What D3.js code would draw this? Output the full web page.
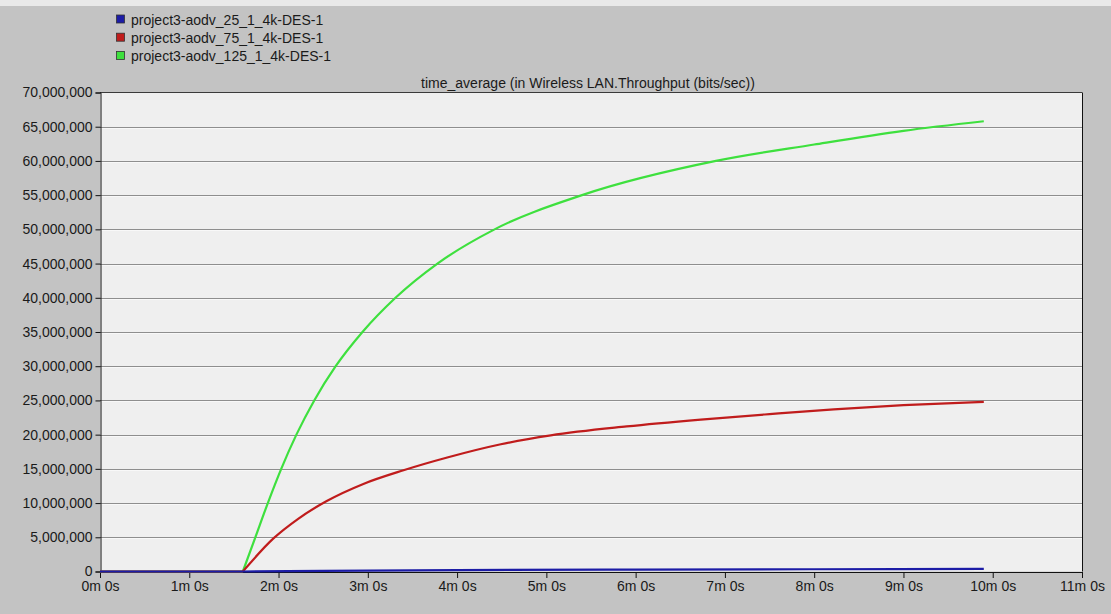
<!DOCTYPE html>
<html>
<head>
<meta charset="utf-8">
<title>time_average throughput</title>
<script src="https://d3js.org/d3.v7.min.js"></script>
<style>
  body { margin: 0; background: #c3c3c3; }
  svg text { font-family: "Liberation Sans", Arial, sans-serif; fill: #1a1a1a; }
</style>
</head>
<body>
<script>
// series names (legend)
var names = ["project3-aodv_25_1_4k-DES-1", "project3-aodv_75_1_4k-DES-1", "project3-aodv_125_1_4k-DES-1"];
var colors = ["#1c1ca6", "#c01c1c", "#3ee03e"];

// time in minutes, values in bits/sec (millions)
var blueT = [0, 1.6, 2.5, 4, 6, 8, 9.9];
var blueV = [0, 0, 0.1, 0.2, 0.28, 0.33, 0.37];

var redT = [0, 1.6, 1.94, 2.22, 2.54, 2.95, 3.4, 3.9, 4.49, 5.05, 5.9, 6.73, 7.5, 8.22, 9.0, 9.9];
var redV = [0, 0, 4.8, 7.7, 10.3, 12.8, 14.8, 16.7, 18.6, 19.9, 21.2, 22.2, 23, 23.7, 24.3, 24.8];

var greenT = [0, 1.6, 1.74, 1.88, 2.03, 2.2, 2.4, 2.64, 2.94, 3.31, 3.78, 4.42, 5.4, 6.9, 8.0, 9.0, 9.9];
var greenV = [0, 0, 5, 10, 15, 20, 25, 30, 35, 40, 45, 50, 55, 60, 62.4, 64.4, 65.8];

var xTicks = d3.range(0, 12);
var yTicks = d3.range(0, 75, 5);
var title = "time_average (in Wireless LAN.Throughput (bits/sec))";

var w = 1111, h = 614;
var pLeft = 100, pRight = 1082, pTop = 92.5, pBottom = 571.5;

var svg = d3.select("body").append("svg").attr("width", w).attr("height", h);

svg.append("rect").attr("width", w).attr("height", 6).attr("fill", "#e9e9e9");

var x = d3.scaleLinear().domain([0, 11]).range([pLeft, pRight]);
var y = d3.scaleLinear().domain([0, 70]).range([pBottom, pTop]);

// plot background
svg.append("rect")
    .attr("x", pLeft).attr("y", pTop)
    .attr("width", pRight - pLeft).attr("height", pBottom - pTop)
    .attr("fill", "#efefef");

// grid lines
var grid = svg.append("g");
grid.selectAll("line.g").data(yTicks.slice(1, -1)).enter().append("line")
    .attr("x1", pLeft).attr("x2", pRight)
    .attr("y1", function (d) { return Math.round(y(d)) + 0.5; })
    .attr("y2", function (d) { return Math.round(y(d)) + 0.5; })
    .attr("stroke", "#8e8e8e");
grid.selectAll("line.s").data(yTicks.slice(1, -1)).enter().append("line")
    .attr("x1", pLeft).attr("x2", pRight)
    .attr("y1", function (d) { return Math.round(y(d)) + 1.5; })
    .attr("y2", function (d) { return Math.round(y(d)) + 1.5; })
    .attr("stroke", "#f8f8f8");

// frame
svg.append("line").attr("x1", pLeft).attr("x2", pRight).attr("y1", pTop).attr("y2", pTop).attr("stroke", "#3a3a3a");
svg.append("line").attr("x1", pRight + 0.5).attr("x2", pRight + 0.5).attr("y1", pTop).attr("y2", pBottom).attr("stroke", "#111");

// axes
var yAxis = d3.axisLeft(y).tickValues(yTicks).tickSize(5).tickPadding(3)
    .tickFormat(function (d) { return d3.format(",")(d * 1e6); });
var gy = svg.append("g").attr("transform", "translate(" + (pLeft + 0.5) + ",0)").call(yAxis);

var xAxis = d3.axisBottom(x).tickValues(xTicks).tickSize(6).tickPadding(3)
    .tickFormat(function (d) { return d + "m 0s"; });
var gx = svg.append("g").attr("transform", "translate(0," + (pBottom + 0.5) + ")").call(xAxis);

svg.selectAll(".domain").attr("stroke", "#111");
svg.selectAll(".tick line").attr("stroke", "#111");
svg.selectAll(".tick text").attr("font-size", 14).attr("fill", "#1a1a1a")
    .attr("font-family", "Liberation Sans, Arial, sans-serif");

// title
svg.append("text").attr("x", 588).attr("y", 88)
    .attr("text-anchor", "middle").attr("font-size", 14)
    .text(title);

// lines: flat start drawn straight, rising part smoothed
var series = [
    { t: greenT, v: greenV, c: colors[2] },
    { t: redT, v: redV, c: colors[1] },
    { t: blueT, v: blueV, c: colors[0] }
];
var flat = d3.line()
    .x(function (d) { return x(d[0]); })
    .y(function (d) { return y(d[1]); });
var smooth = d3.line()
    .x(function (d) { return x(d[0]); })
    .y(function (d) { return y(d[1]); })
    .curve(d3.curveMonotoneX);

series.forEach(function (s) {
    var pts = s.t.map(function (t, i) { return [t, s.v[i]]; });
    var k = 0;
    while (k + 1 < pts.length && pts[k + 1][1] === 0) k++;
    [flat(pts.slice(0, k + 1)), smooth(pts.slice(k))].forEach(function (d) {
        svg.append("path")
            .attr("d", d)
            .attr("fill", "none")
            .attr("stroke", s.c)
            .attr("stroke-width", 2.2)
            .attr("stroke-linejoin", "round");
    });
});

// legend
var lg = svg.append("g");
names.forEach(function (n, i) {
    var cy = 19.5 + i * 18.2;
    lg.append("rect").attr("x", 116.5).attr("y", cy - 4.5).attr("width", 8).attr("height", 8)
        .attr("fill", colors[i]).attr("stroke", "#333").attr("stroke-width", 0.8);
    lg.append("text").attr("x", 131).attr("y", cy + 5).attr("font-size", 14).text(n);
});
</script>
</body>
</html>
